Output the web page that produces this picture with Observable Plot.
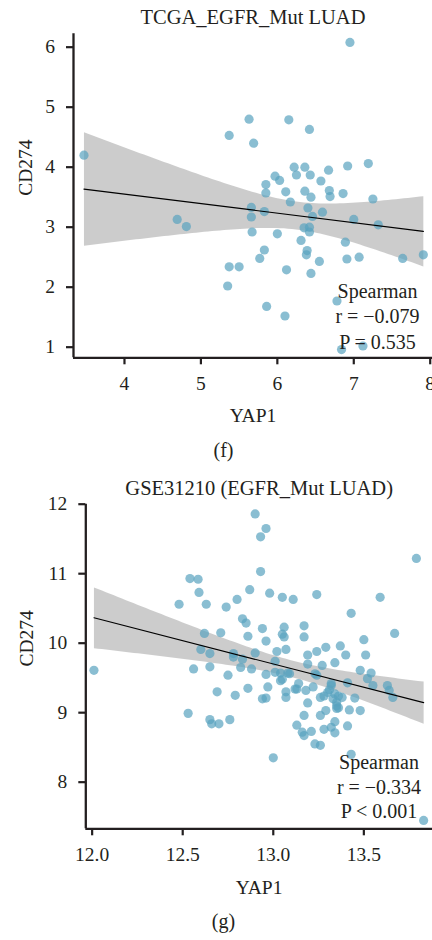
<!DOCTYPE html>
<html><head><meta charset="utf-8">
<script src="https://cdn.jsdelivr.net/npm/d3@7"></script>
<script src="https://cdn.jsdelivr.net/npm/@observablehq/plot@0.6"></script>
<style>
html,body{margin:0;padding:0;background:#fff;}
body{width:432px;overflow:hidden;}
svg{display:block;}
</style></head><body><div id="c"></div>
<script>
// ---- Panel (f): TCGA ----
const tcgaTitle = "TCGA_EGFR_Mut LUAD";
const tcgaCaption = "(f)";
const tcgaStats = ["Spearman", "r = −0.079", "P = 0.535"];
const tcgaXTicks = [4, 5, 6, 7, 8];
const tcgaYTicks = [1, 2, 3, 4, 5, 6];
const tcgaYAP1 = [3.47, 5.37, 5.63, 5.69, 6.15, 6.42, 6.95, 6.22, 6.36, 6.25,
  6.43, 5.97, 6.03, 6.67, 6.92, 7.19, 6.57, 5.85, 5.85, 6.11,
  6.36, 6.44, 6.68, 6.69, 6.86, 7.25, 6.17, 5.66, 6.40, 5.83,
  6.59, 4.69, 5.66, 6.46, 7.00, 4.81, 7.32, 6.35, 6.42, 6.42,
  5.67, 6.00, 6.31, 5.83, 5.77, 6.39, 6.38, 6.89, 6.91, 7.07,
  6.55, 7.64, 7.91, 5.37, 5.50, 6.12, 6.44, 5.35, 6.78, 5.86,
  6.10, 6.84, 7.12];
const tcgaCD274 = [4.20, 4.53, 4.80, 4.40, 4.79, 4.63, 6.08, 4.00, 4.00, 3.87,
  3.87, 3.85, 3.78, 3.95, 4.02, 4.06, 3.77, 3.71, 3.57, 3.59,
  3.60, 3.50, 3.61, 3.51, 3.56, 3.47, 3.42, 3.33, 3.32, 3.26,
  3.25, 3.13, 3.17, 3.18, 3.13, 3.01, 3.04, 2.99, 3.00, 2.92,
  2.92, 2.89, 2.78, 2.62, 2.48, 2.61, 2.54, 2.75, 2.47, 2.50,
  2.43, 2.48, 2.54, 2.34, 2.34, 2.29, 2.23, 2.02, 1.77, 1.68,
  1.52, 0.96, 1.02];

// ---- Panel (g): GSE31210 ----
const gseTitle = "GSE31210 (EGFR_Mut LUAD)";
const gseCaption = "(g)";
const gseStats = ["Spearman", "r = −0.334", "P < 0.001"];
const gseXTicks = [12.0, 12.5, 13.0, 13.5];
const gseYTicks = [8, 9, 10, 11, 12];
const gseYAP1 = [12.01, 12.90, 12.96, 12.93, 12.93, 13.79, 12.54, 12.585, 12.59, 12.87,
  12.48, 12.63, 12.74, 12.80, 12.98, 13.05, 13.11, 13.24, 13.43, 13.59,
  13.67, 12.83, 12.85, 12.71, 12.62, 12.86, 12.94, 13.06, 13.05, 13.06,
  12.96, 13.17, 13.17, 13.50, 12.60, 12.65, 12.78, 12.78, 12.90, 13.02,
  13.07, 13.19, 13.24, 13.29, 13.37, 13.40, 13.51, 12.56, 12.65, 12.75,
  12.82, 12.83, 12.88, 13.01, 12.96, 13.04, 13.08, 13.05, 13.19, 13.27,
  13.34, 13.23, 13.48, 13.54, 13.52, 13.41, 13.63, 13.32, 13.14, 13.22,
  12.97, 12.86, 12.69, 12.79, 13.18, 13.07, 12.53, 12.65, 12.66, 12.70,
  12.76, 12.94, 12.96, 13.00, 13.07, 13.13, 13.19, 13.13, 13.17, 13.17,
  13.21, 13.23, 13.26, 13.26, 13.29, 13.26, 13.28, 13.32, 13.34, 13.34,
  13.35, 13.32, 13.41, 13.43, 13.42, 13.48, 13.45, 13.83, 13.66, 13.35,
  13.34, 13.38, 13.30, 13.04, 13.55, 13.64, 13.36, 13.24, 13.01, 13.09,
  13.12, 13.16, 13.33, 13.36, 13.35, 13.31, 13.28];
const gseCD274 = [9.61, 11.86, 11.65, 11.53, 11.03, 11.22, 10.93, 10.92, 10.73, 10.77,
  10.56, 10.56, 10.52, 10.63, 10.72, 10.66, 10.63, 10.70, 10.43, 10.66,
  10.14, 10.35, 10.29, 10.15, 10.14, 10.10, 10.21, 10.23, 10.13, 10.09,
  10.03, 10.25, 10.09, 10.05, 9.91, 9.85, 9.85, 9.80, 9.86, 9.88,
  9.91, 9.83, 9.88, 9.94, 9.96, 9.83, 9.83, 9.63, 9.66, 9.54,
  9.65, 9.77, 9.63, 9.74, 9.55, 9.57, 9.57, 9.48, 9.70, 9.68,
  9.72, 9.56, 9.61, 9.57, 9.49, 9.43, 9.39, 9.42, 9.42, 9.37,
  9.37, 9.35, 9.30, 9.25, 9.32, 9.30, 8.99, 8.90, 8.84, 8.84,
  8.90, 9.20, 9.21, 8.35, 9.22, 9.34, 9.14, 8.82, 8.96, 8.67,
  8.73, 8.55, 8.53, 8.96, 9.03, 9.22, 8.76, 8.79, 8.87, 8.71,
  9.06, 9.39, 8.81, 8.40, 9.04, 9.03, 9.21, 7.45, 9.22, 9.15,
  9.27, 9.22, 9.29, 9.46, 9.39, 9.32, 9.07, 9.54, 9.58, 9.56,
  9.34, 8.72, 9.20, 9.24, 9.10, 9.33, 9.24];

const xLabel = "YAP1";
const yLabel = "CD274";

const INK = "#231f20";
const FONT = "'Liberation Serif', 'DejaVu Serif', serif";

function panel(cfg) {
  const data = cfg.xs.map((x, i) => ({x, y: cfg.ys[i]}));
  const W = 432, H = 470;
  const frameCx = (cfg.marginLeft + W) / 2;
  return Plot.plot({
    width: W, height: H,
    marginLeft: cfg.marginLeft, marginRight: 0,
    marginTop: cfg.marginTop, marginBottom: cfg.marginBottom,
    style: {fontFamily: FONT, fontSize: "19.5px", color: INK, background: "#fff", overflow: "visible"},
    x: {domain: cfg.xDomain},
    y: {domain: cfg.yDomain},
    marks: [
      Plot.linearRegressionY(data, {x: "x", y: "y", ci: 0.95, stroke: "none", fill: "#999", fillOpacity: 0.5}),
      Plot.dot(data, {x: "x", y: "y", r: 4.6, fill: "#59a3bf", fillOpacity: 0.7, stroke: "none"}),
      Plot.linearRegressionY(data, {x: "x", y: "y", ci: 0, stroke: "#000", strokeWidth: 1.2}),
      Plot.axisY({ticks: cfg.yTicks, tickFormat: d3.format("d"), tickSize: 7, tickPadding: 11.5, strokeWidth: 2.2, fontSize: 19.5, label: null}),
      Plot.axisX({ticks: cfg.xTicks, tickFormat: cfg.xFmt, tickSize: 7, tickPadding: 11.5, strokeWidth: 2.2, fontSize: 19.5, label: null}),
      // axis lines along the frame's left and bottom edges (at the domain minimum)
      Plot.ruleX([cfg.xDomain[0]], {stroke: INK, strokeWidth: 2.3}),
      Plot.ruleY([cfg.yDomain[0]], {stroke: INK, strokeWidth: 2.3}),
      Plot.text([cfg.title], {text: d => d, frameAnchor: "top", lineAnchor: "bottom", dy: cfg.titleDy, fontSize: 20.5, fill: INK}),
      Plot.text([xLabel], {text: d => d, frameAnchor: "bottom", lineAnchor: "bottom", dy: cfg.xLabelDy, fontSize: 19.5, fill: INK}),
      Plot.text([yLabel], {text: d => d, frameAnchor: "left", rotate: -90, lineAnchor: "bottom", dx: cfg.yLabelX - cfg.marginLeft, fontSize: 19.5, fill: INK}),
      Plot.text([cfg.stats.join("\n")], {text: d => d, frameAnchor: "bottom-right", textAnchor: "middle", lineAnchor: "bottom", dx: cfg.statsX - W, dy: cfg.statsDy, lineHeight: cfg.statsLH, fontSize: 20, fill: INK}),
      Plot.text([cfg.caption], {text: d => d, frameAnchor: "bottom", lineAnchor: "bottom", dx: 223 - frameCx, dy: cfg.captionDy, fontSize: 20, fill: INK})
    ]
  });
}

const c = document.getElementById("c");
c.append(panel({
  xs: tcgaYAP1, ys: tcgaCD274, title: tcgaTitle, stats: tcgaStats, caption: tcgaCaption,
  xTicks: tcgaXTicks, yTicks: tcgaYTicks, xFmt: d3.format("d"),
  xDomain: [3.333, 8.03], yDomain: [0.823, 6.223],
  marginLeft: 73, marginTop: 33.3, marginBottom: 112.7,
  titleDy: -10, xLabelDy: 64.4, yLabelX: 31.7, statsX: 377, statsDy: -9, statsLH: 1.275, captionDy: 99.2
}));
c.append(panel({
  xs: gseYAP1, ys: gseCD274, title: gseTitle, stats: gseStats, caption: gseCaption,
  xTicks: gseXTicks, yTicks: gseYTicks, xFmt: d3.format(".1f"),
  xDomain: [11.965, 13.879], yDomain: [7.329, 12.0],
  marginLeft: 85.3, marginTop: 33.7, marginBottom: 111.7,
  titleDy: -9.4, xLabelDy: 65, yLabelX: 32.3, statsX: 378.5, statsDy: -10.8, statsLH: 1.215, captionDy: 99.2
}));
</script>
</body></html>
